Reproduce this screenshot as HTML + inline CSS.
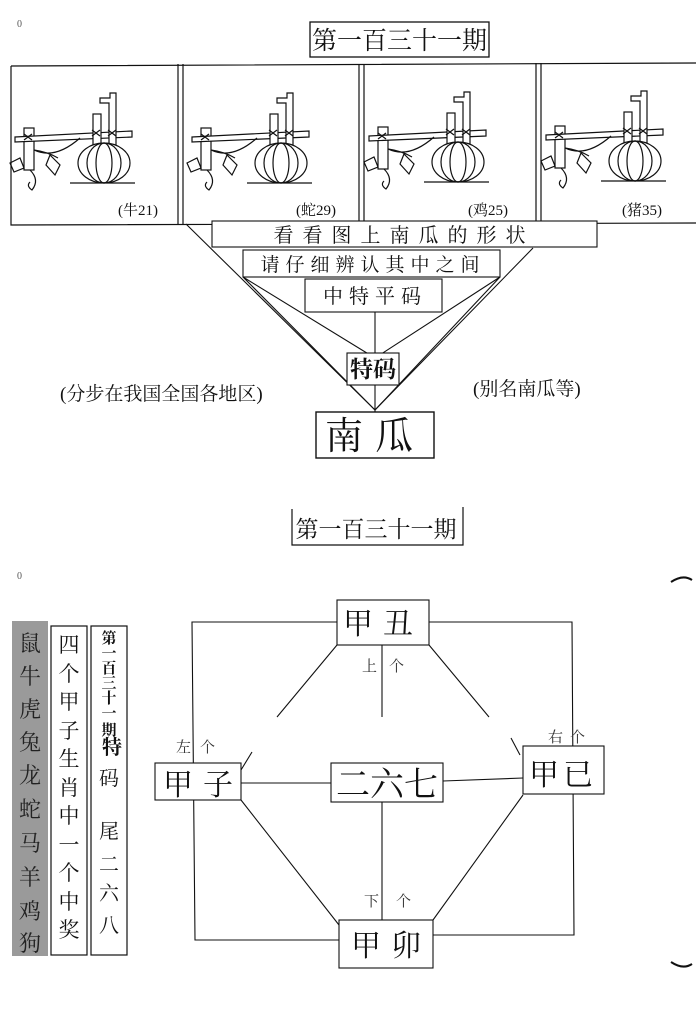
<!DOCTYPE html>
<html><head><meta charset="utf-8"><style>
html,body{margin:0;padding:0;background:#fff;}
svg{display:block;font-family:"Liberation Serif","Noto Serif CJK SC","Noto Sans CJK SC",serif;}
</style></head><body>
<svg width="696" height="1023" viewBox="0 0 696 1023" xmlns="http://www.w3.org/2000/svg">
<defs>
<g id="pk" fill="none" stroke="#111" stroke-width="1.2">
  <rect x="24" y="128" width="10" height="42" fill="#fff"/>
  <path d="M15 137 L132 131 L132 137 L15 142 Z" fill="#fff"/>
  <rect x="93" y="114" width="8" height="40" fill="#fff"/>
  <path d="M100 98 L110 98 L110 93 L116 93 L116 150 L109 150 L109 103 L100 103 Z" fill="#fff"/>
  <ellipse cx="104" cy="163" rx="26" ry="20" fill="#fff"/>
  <ellipse cx="104" cy="163" rx="17" ry="20"/>
  <ellipse cx="104" cy="163" rx="8" ry="20"/>
  <path d="M70 183 L135 183"/>
  <path d="M34 150 Q55 160 80 138 M34 150 Q48 152 58 158"/>
  <path d="M50 155 L60 165 L55 175 L46 165 Z M10 163 L20 158 L24 168 L14 172 Z"/>
  <path d="M30 170 Q40 180 32 190 Q26 186 30 182"/>
  <path d="M92 130 L100 136 M100 130 L92 136 M108 130 L116 136 M116 130 L108 136 M24 134 L32 140 M32 134 L24 140"/>
</g>
</defs>
<g fill="#111">
<text x="17" y="27" font-size="10" fill="#555">0</text>
<rect x="310" y="22" width="179" height="35" fill="none" stroke="#111" stroke-width="1.3"/>
<text x="399.5" y="49" font-size="25" text-anchor="middle">第一百三十一期</text>

<g fill="none" stroke="#111" stroke-width="1.2">
<path d="M11 66 L696 63 M11 66 L11 225 L696 223"/>
<path d="M178 64 L178 224 M183 64 L183 224 M359 64 L359 223 M364 64 L364 223 M536 63 L536 223 M541 63 L541 223"/>
</g>
<use href="#pk" x="0" y="0"/>
<use href="#pk" x="177" y="0"/>
<use href="#pk" x="354" y="-1"/>
<use href="#pk" x="531" y="-2"/>
<g font-size="15">
<text x="118" y="215">(牛21)</text>
<text x="296" y="215">(蛇29)</text>
<text x="468" y="215">(鸡25)</text>
<text x="622" y="215">(猪35)</text>
</g>

<g fill="none" stroke="#111" stroke-width="1.1">
<path d="M186 224 L375 410 M533 248 L375 410"/>
<path d="M243 277 L375 410 M243 277 L375 358 M500 277 L375 410 M500 277 L375 358"/>
<path d="M375 312 L375 353 M375 385 L375 412"/>
<rect x="212" y="221" width="385" height="26" fill="#fff"/>
<rect x="243" y="250" width="257" height="27" fill="#fff"/>
<rect x="305" y="279" width="137" height="33" fill="#fff"/>
<rect x="347" y="353" width="52" height="32" fill="#fff"/>
<rect x="316" y="412" width="118" height="46" fill="#fff" stroke-width="1.4"/>
</g>
<text x="404" y="242" font-size="20" text-anchor="middle" letter-spacing="9">看看图上南瓜的形状</text>
<text x="373" y="271" font-size="19" text-anchor="middle" letter-spacing="6">请仔细辨认其中之间</text>
<text x="375" y="303" font-size="20" text-anchor="middle" letter-spacing="6">中特平码</text>
<text x="373" y="377" font-size="23" text-anchor="middle" font-weight="bold">特码</text>
<text x="375" y="449" font-size="38" text-anchor="middle" letter-spacing="12">南瓜</text>
<text x="60" y="400" font-size="19">(分步在我国全国各地区)</text>
<text x="473" y="395" font-size="19">(别名南瓜等)</text>

<!-- bottom -->
<path d="M292 509 L292 545 L463 545 L463 507" fill="none" stroke="#111" stroke-width="1.2"/>
<text x="376" y="537" font-size="23" text-anchor="middle">第一百三十一期</text>
<text x="17" y="579" font-size="10" fill="#555">0</text>
<path d="M671 582 Q683 574 692 580" fill="none" stroke="#111" stroke-width="2"/>
<path d="M671 962 Q683 970 692 964" fill="none" stroke="#111" stroke-width="2"/>

<rect x="12" y="621" width="36" height="335" fill="#9a9a9a"/>
<g font-size="22" text-anchor="middle" fill="#222">
<text x="30" y="651">鼠</text><text x="30" y="684">牛</text><text x="30" y="717">虎</text><text x="30" y="750">兔</text><text x="30" y="783">龙</text><text x="30" y="817">蛇</text><text x="30" y="851">马</text><text x="30" y="885">羊</text><text x="30" y="919">鸡</text><text x="30" y="951">狗</text>
</g>
<rect x="51" y="626" width="36" height="329" fill="none" stroke="#111" stroke-width="1.2"/>
<g font-size="21" text-anchor="middle">
<text x="69" y="652">四</text><text x="69" y="681">个</text><text x="69" y="709">甲</text><text x="69" y="738">子</text><text x="69" y="766">生</text><text x="69" y="795">肖</text><text x="69" y="823">中</text><text x="69" y="852">一</text><text x="69" y="880">个</text><text x="69" y="909">中</text><text x="69" y="937">奖</text>
</g>
<rect x="91" y="626" width="36" height="329" fill="none" stroke="#111" stroke-width="1.2"/>
<g font-size="15" text-anchor="middle" font-weight="bold">
<text x="109" y="643">第</text><text x="109" y="658">一</text><text x="109" y="673">百</text><text x="109" y="688">三</text><text x="109" y="703">十</text><text x="109" y="718">一</text><text x="109" y="735">期</text>
</g>
<g font-size="20" text-anchor="middle">
<text x="112" y="754" font-weight="bold">特</text><text x="109" y="785">码</text><text x="109" y="838">尾</text><text x="109" y="871">二</text><text x="109" y="900">六</text><text x="109" y="932">八</text>
</g>

<g fill="none" stroke="#111" stroke-width="1.1">
<path d="M337 622 L192 622 L195 940 L339 940 M429 622 L572 622 L574 935 L433 935"/>
<path d="M337 645 L277 717 M429 645 L489 717 M382 645 L382 717"/>
<path d="M241 770 L252 752 M520 755 L511 738"/>
<path d="M241 783 L331 783 M443 781 L523 778 M382 802 L382 920"/>
<path d="M241 800 L339 925 M523 795 L433 920"/>
<rect x="337" y="600" width="92" height="45" fill="#fff"/>
<rect x="155" y="763" width="86" height="37" fill="#fff"/>
<rect x="331" y="763" width="112" height="39" fill="#fff"/>
<rect x="523" y="746" width="81" height="48" fill="#fff"/>
<rect x="339" y="920" width="94" height="48" fill="#fff"/>
</g>
<g font-size="30" text-anchor="middle">
<text x="383" y="634" letter-spacing="10">甲丑</text>
<text x="203" y="795" letter-spacing="10">甲子</text>
<text x="387" y="796" font-size="34">二六七</text>
<text x="563" y="785" letter-spacing="4">甲已</text>
<text x="391" y="956" letter-spacing="10">甲卯</text>
</g>
<g font-size="15" fill="#333">
<text x="362" y="671">上</text><text x="389" y="671">个</text>
<text x="176" y="752">左</text><text x="200" y="752">个</text>
<text x="548" y="742">右</text><text x="570" y="742">个</text>
<text x="364" y="906">下</text><text x="396" y="906">个</text>
</g>
</g>
</svg>
</body></html>
